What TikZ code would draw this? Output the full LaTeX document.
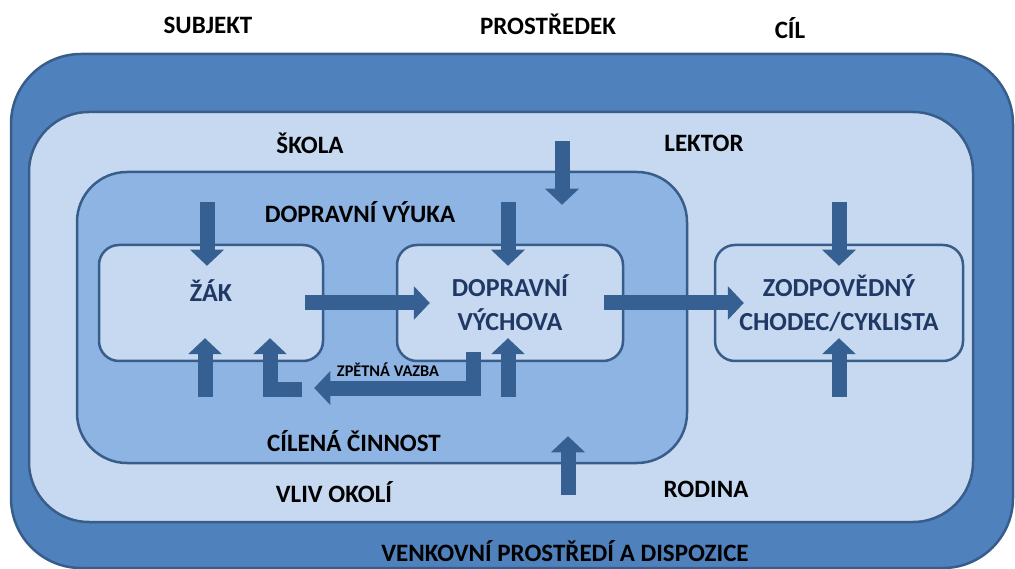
\documentclass[tikz,border=0pt]{standalone}
\usepackage{fontspec}
\setmainfont{Carlito}
\usetikzlibrary{arrows.meta,positioning,calc}
\definecolor{outerblue}{HTML}{4F81BD}
\definecolor{lightblue}{HTML}{C6D9F1}
\definecolor{midblue}{HTML}{8EB4E3}
\definecolor{edgeblue}{HTML}{385D8A}
\definecolor{arrowblue}{HTML}{376092}
\definecolor{navy}{HTML}{1F3864}
\tikzset{
    area/.style={draw=edgeblue, line width=2.5pt, rounded corners=#1},
    box/.style={draw=edgeblue, line width=2.5pt, fill=lightblue, rounded corners=20pt,
        minimum height=116pt, align=center, text=navy,
        font=\bfseries\fontsize{26}{34}\selectfont},
    lbl/.style={font=\bfseries\fontsize{25}{28}\selectfont},
    smalllbl/.style={font=\bfseries\fontsize{16.3}{19}\selectfont},
    blockarrow/.style={draw=arrowblue, line width=15pt,
        -{Triangle[width=34pt,length=16pt,line width=0pt]}}
}

\begin{document}
\begin{tikzpicture}[x=1pt,y=-1pt]
    \useasboundingbox (0,0) rectangle (1015,569);

    % nested areas
    \node[area=70pt, fill=outerblue, minimum width=1002pt, minimum height=514pt] (venkov) at (512,311) {};
    \node[area=60pt, fill=lightblue, minimum width=944pt, minimum height=410pt] (okoli) at (501,317) {};
    \node[area=50pt, fill=midblue, minimum width=610pt, minimum height=291pt] (vyuka) at (382,317.5) {};

    % boxes
    \node[box, minimum width=224pt, label={[font=\bfseries\fontsize{26}{30}\selectfont, text=navy, yshift=12pt]center:ŽÁK}] (zak) at (211,303) {};
    \node[box, minimum width=226pt] (vychova) at (510,303) {DOPRAVNÍ\\VÝCHOVA};
    \node[box, minimum width=248pt] (cil) at (839,303) {ZODPOVĚDNÝ\\CHODEC/CYKLISTA};

    % labels
    \node[lbl] (subjekt) at (208,25) {SUBJEKT};
    \node[lbl] (prostredek) at (548,24) {PROSTŘEDEK};
    \node[lbl] (cilhead) at (790,28) {CÍL};
    \node[lbl] (skola) at (310,143) {ŠKOLA};
    \node[lbl] (lektor) at (704,143) {LEKTOR};
    \node[lbl] (vyukalbl) at (360,212) {DOPRAVNÍ VÝUKA};
    \node[lbl] (cinnost) at (354,441) {CÍLENÁ ČINNOST};
    \node[lbl] (vliv) at (334,492) {VLIV OKOLÍ};
    \node[lbl] (rodina) at (706,489) {RODINA};
    \node[lbl] (venkovlbl) at (565,551) {VENKOVNÍ PROSTŘEDÍ A DISPOZICE};
    \node[smalllbl] (vazba) at (388,370) {ZPĚTNÁ VAZBA};

    % free ends
    \coordinate (zaktop) at (207,202);
    \coordinate (zakbot) at (205,397);
    \coordinate (vychtop) at (508,202);
    \coordinate (vychbot) at (508,397);
    \coordinate (lektorin) at (562,141);
    \coordinate (rodinain) at (568,495);
    \coordinate (ciltop) at (839,202);
    \coordinate (cilbot) at (839,397);

    % arrows
    \draw[blockarrow] (zaktop) -- ($(zak.north)+(-4,22)$);
    \draw[blockarrow] (zakbot) -- ($(zak.south)+(-6,-24)$);
    \draw[blockarrow] ($(zak.south)+(91,27)$) -| ($(zak.south)+(59,-24)$);
    \draw[blockarrow] (vychtop) -- ($(vychova.north)+(-2,22)$);
    \draw[blockarrow] (vychbot) -- ($(vychova.south)+(-2,-24)$);
    \draw[blockarrow] ($(vychova.south)+(-37,-10)$) |- ($(zak.east)+(-10,85)$);
    \draw[blockarrow] (lektorin) -- ($(vyuka.north)+(180,34)$);
    \draw[blockarrow] (rodinain) -- ($(vyuka.south)+(186,-28)$);
    \draw[blockarrow] (ciltop) -- ($(cil.north)+(0,22)$);
    \draw[blockarrow] (cilbot) -- ($(cil.south)+(0,-24)$);
    \draw[blockarrow] ($(zak.east)+(-19,0)$) -- ($(vychova.west)+(34,0)$);
    \draw[blockarrow] ($(vychova.east)+(-20,0)$) -- ($(cil.west)+(30,0)$);
\end{tikzpicture}
\end{document}
